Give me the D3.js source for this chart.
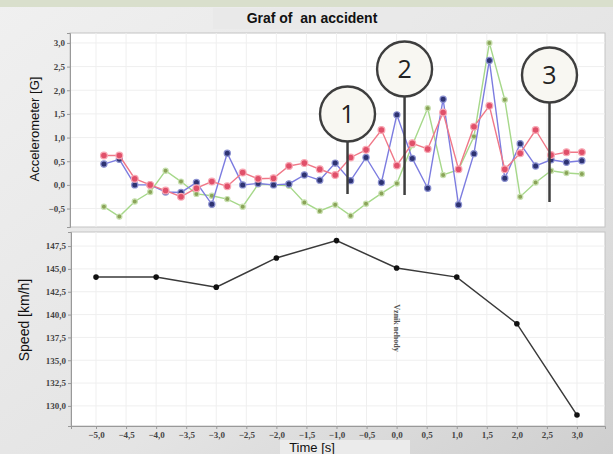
<!DOCTYPE html>
<html>
<head>
<meta charset="utf-8">
<script src="https://cdn.jsdelivr.net/npm/d3@7"></script>
<style>
  html, body { margin: 0; padding: 0; background: #e6e6e6; }
  svg { display: block; }
</style>
</head>
<body>
<svg id="chart" width="613" height="454"></svg>
<script>
// accelerometer samples (G), one value per sample
const accelRed   = [0.62, 0.62, 0.13, 0.00, -0.12, -0.25, -0.07, 0.07, -0.03, 0.26, 0.13, 0.14, 0.40, 0.46, 0.33, 0.21,
                    0.58, 0.74, 1.16, 0.41, 0.88, 0.76, 1.53, 0.33, 1.23, 1.67, 0.33, 0.67, 1.16, 0.63, 0.69, 0.69];
const accelBlue  = [0.44, 0.54, 0.00, 0.00, -0.15, -0.16, 0.05, -0.41, 0.67, 0.00, 0.03, 0.00, 0.02, 0.21, 0.10, 0.46,
                    0.09, 0.58, 0.05, 1.48, 0.56, -0.07, 1.81, -0.42, 0.66, 2.63, 0.14, 0.87, 0.40, 0.53, 0.48, 0.51];
const accelGreen = [-0.46, -0.67, -0.35, -0.15, 0.30, 0.07, -0.19, -0.23, -0.30, -0.46, 0.01, 0.00, -0.02, -0.37, -0.55, -0.42,
                    -0.65, -0.40, -0.18, 0.03, 0.84, 1.62, 0.21, 0.32, 1.02, 3.00, 1.80, -0.25, 0.05, 0.30, 0.25, 0.23];
const accelTicks = [-0.5, 0, 0.5, 1, 1.5, 2, 2.5, 3];

// speed (km/h) over time (s)
const speedTimes = [-5, -4, -3, -2, -1, 0, 1, 2, 3];
const speedValues = [144.1, 144.1, 143.0, 146.2, 148.1, 145.1, 144.1, 139.0, 129.0];
const speedTicks = [130, 132.5, 135, 137.5, 140, 142.5, 145, 147.5];
const timeTicks = [-5, -4.5, -4, -3.5, -3, -2.5, -2, -1.5, -1, -0.5, 0, 0.5, 1, 1.5, 2, 2.5, 3];

// numbered markers: sample index where the pointer sits
const callouts = [
  { label: "1", sample: 15.8, cy: 114, bottom: 194 },
  { label: "2", sample: 19.5, cy: 69, bottom: 195 },
  { label: "3", sample: 28.9, cy: 75, bottom: 202 }
];

const svg = d3.select("#chart");
const fmt = v => d3.format(".1f")(v).replace(".", ",");

// background
const defs = svg.append("defs");
const bg = defs.append("linearGradient").attr("id", "bg").attr("x1", 0).attr("y1", 0).attr("x2", 1).attr("y2", 1);
bg.append("stop").attr("offset", "0%").attr("stop-color", "#f0f0f0");
bg.append("stop").attr("offset", "60%").attr("stop-color", "#e4e4e4");
bg.append("stop").attr("offset", "100%").attr("stop-color", "#cfcfcf");
svg.append("rect").attr("width", 613).attr("height", 454).attr("fill", "url(#bg)");
svg.append("rect").attr("width", 613).attr("height", 7).attr("fill", "#d9dfcc");

// title
svg.append("rect").attr("x", 213).attr("y", 8).attr("width", 199).attr("height", 21).attr("fill", "#e9e9e9");
svg.append("text").attr("x", 312).attr("y", 23).attr("text-anchor", "middle")
  .style("font-family", "Liberation Sans, Arial, sans-serif").style("font-size", "14px")
  .style("font-weight", "bold").style("white-space", "pre").attr("fill", "#111")
  .text("Graf of  an accident");

const tickFont = g => g.selectAll("text")
  .style("font-family", "Liberation Serif, serif").style("font-size", "9px")
  .style("font-weight", "bold").attr("fill", "#444");

// ---- top panel: accelerometer
const topBox = { x0: 70, x1: 605, y0: 33, y1: 227 };
const xTop = d3.scaleLinear().domain([-2.2, 32.5]).range([topBox.x0, topBox.x1]);
const yTop = d3.scaleLinear().domain([-0.89, 3.21]).range([topBox.y1, topBox.y0]);
const xTime = d3.scaleLinear().domain([-5.416, 3.466]).range([71, 605]);

svg.append("rect").attr("x", topBox.x0).attr("y", topBox.y0)
  .attr("width", topBox.x1 - topBox.x0).attr("height", topBox.y1 - topBox.y0)
  .attr("fill", "#fff").attr("stroke", "#c4c4c4");

const gridTop = svg.append("g").attr("stroke", "#efefef");
gridTop.selectAll("line.h").data(accelTicks).join("line").attr("class", "h")
  .attr("x1", topBox.x0).attr("x2", topBox.x1).attr("y1", d => yTop(d)).attr("y2", d => yTop(d));
gridTop.selectAll("line.v").data(timeTicks).join("line").attr("class", "v")
  .attr("y1", topBox.y0).attr("y2", topBox.y1).attr("x1", d => xTime(d)).attr("x2", d => xTime(d));

svg.append("g").attr("transform", `translate(${topBox.x0},0)`)
  .call(d3.axisLeft(yTop).tickValues(accelTicks).tickFormat(fmt).tickSize(3).tickPadding(2))
  .call(g => g.select(".domain").attr("stroke", "#999"))
  .call(g => g.selectAll(".tick line").attr("stroke", "#999"))
  .call(tickFont);

svg.append("text").attr("transform", "translate(39,129) rotate(-90)").attr("text-anchor", "middle")
  .style("font-family", "Liberation Sans, Arial, sans-serif").style("font-size", "13px").attr("fill", "#111")
  .text("Accelerometer [G]");

const series = [
  { values: accelGreen, line: "#a6d88a", dot: "#8aa458", halo: "#c8e0b0", r: 2.6 },
  { values: accelBlue, line: "#7c7ce0", dot: "#2e3372", halo: "#8a90d0", r: 3.1 },
  { values: accelRed, line: "#f07888", dot: "#e0506a", halo: "#f8a8b4", r: 3.4 }
];
const lineTop = d3.line().x((d, i) => xTop(i)).y(d => yTop(d));
series.forEach(s => {
  svg.append("path").datum(s.values).attr("d", lineTop)
    .attr("fill", "none").attr("stroke", s.line).attr("stroke-width", 1.4);
  svg.append("g").selectAll("circle").data(s.values).join("circle")
    .attr("cx", (d, i) => xTop(i)).attr("cy", d => yTop(d)).attr("r", s.r)
    .attr("fill", s.dot).attr("stroke", s.halo).attr("stroke-width", 1.2);
});

// callouts
const co = svg.append("g");
callouts.forEach(c => {
  const cx = xTop(c.sample);
  co.append("line").attr("x1", cx).attr("x2", cx).attr("y1", c.cy + 27).attr("y2", c.bottom)
    .attr("stroke", "#3e3e3e").attr("stroke-width", 2.5);
  co.append("circle").attr("cx", cx).attr("cy", c.cy).attr("r", 27.5)
    .attr("fill", "#f8f7f2").attr("stroke", "#3e3e3e").attr("stroke-width", 2.4);
  co.append("text").attr("x", cx).attr("y", c.cy + 9).attr("text-anchor", "middle")
    .style("font-family", "Open Sans, Liberation Sans, sans-serif").style("font-size", "25px").attr("fill", "#222")
    .text(c.label);
});

// ---- bottom panel: speed
const botBox = { x0: 71, x1: 605, y0: 232, y1: 426 };
const ySpeed = d3.scaleLinear().domain([127.8, 149.04]).range([botBox.y1, botBox.y0]);

svg.append("rect").attr("x", botBox.x0).attr("y", botBox.y0)
  .attr("width", botBox.x1 - botBox.x0).attr("height", botBox.y1 - botBox.y0)
  .attr("fill", "#fff").attr("stroke", "#c4c4c4");

const gridBot = svg.append("g").attr("stroke", "#efefef");
gridBot.selectAll("line.h").data(speedTicks).join("line").attr("class", "h")
  .attr("x1", botBox.x0).attr("x2", botBox.x1).attr("y1", d => ySpeed(d)).attr("y2", d => ySpeed(d));
gridBot.selectAll("line.v").data(timeTicks).join("line").attr("class", "v")
  .attr("y1", botBox.y0).attr("y2", botBox.y1).attr("x1", d => xTime(d)).attr("x2", d => xTime(d));

svg.append("g").attr("transform", `translate(${botBox.x0},0)`)
  .call(d3.axisLeft(ySpeed).tickValues(speedTicks).tickFormat(fmt).tickSize(3).tickPadding(2))
  .call(g => g.select(".domain").attr("stroke", "#999"))
  .call(g => g.selectAll(".tick line").attr("stroke", "#999"))
  .call(tickFont);

svg.append("g").attr("transform", `translate(0,${botBox.y1})`)
  .call(d3.axisBottom(xTime).tickValues(timeTicks).tickFormat(fmt).tickSize(3).tickPadding(3))
  .call(g => g.select(".domain").attr("stroke", "#999"))
  .call(g => g.selectAll(".tick line").attr("stroke", "#999"))
  .call(tickFont);

svg.append("text").attr("transform", "translate(29,320) rotate(-90)").attr("text-anchor", "middle")
  .style("font-family", "Liberation Sans, Arial, sans-serif").style("font-size", "14px").attr("fill", "#111")
  .text("Speed [km/h]");

svg.append("rect").attr("x", 280).attr("y", 440).attr("width", 130).attr("height", 14).attr("fill", "#ebebeb");
svg.append("text").attr("x", 312).attr("y", 452).attr("text-anchor", "middle")
  .style("font-family", "Liberation Sans, Arial, sans-serif").style("font-size", "13px").attr("fill", "#111")
  .text("Time [s]");

svg.append("text").attr("transform", "translate(394,328) rotate(90)").attr("text-anchor", "middle")
  .style("font-family", "Liberation Serif, serif").style("font-size", "8px").style("font-weight", "bold")
  .attr("fill", "#555").text("Vznik nehody");

const lineSpeed = d3.line().x((d, i) => xTime(speedTimes[i])).y(d => ySpeed(d));
svg.append("path").datum(speedValues).attr("d", lineSpeed)
  .attr("fill", "none").attr("stroke", "#3a3a3a").attr("stroke-width", 1.5);
svg.append("g").selectAll("circle").data(speedValues).join("circle")
  .attr("cx", (d, i) => xTime(speedTimes[i])).attr("cy", d => ySpeed(d)).attr("r", 2.8)
  .attr("fill", "#111");
</script>
</body>
</html>
